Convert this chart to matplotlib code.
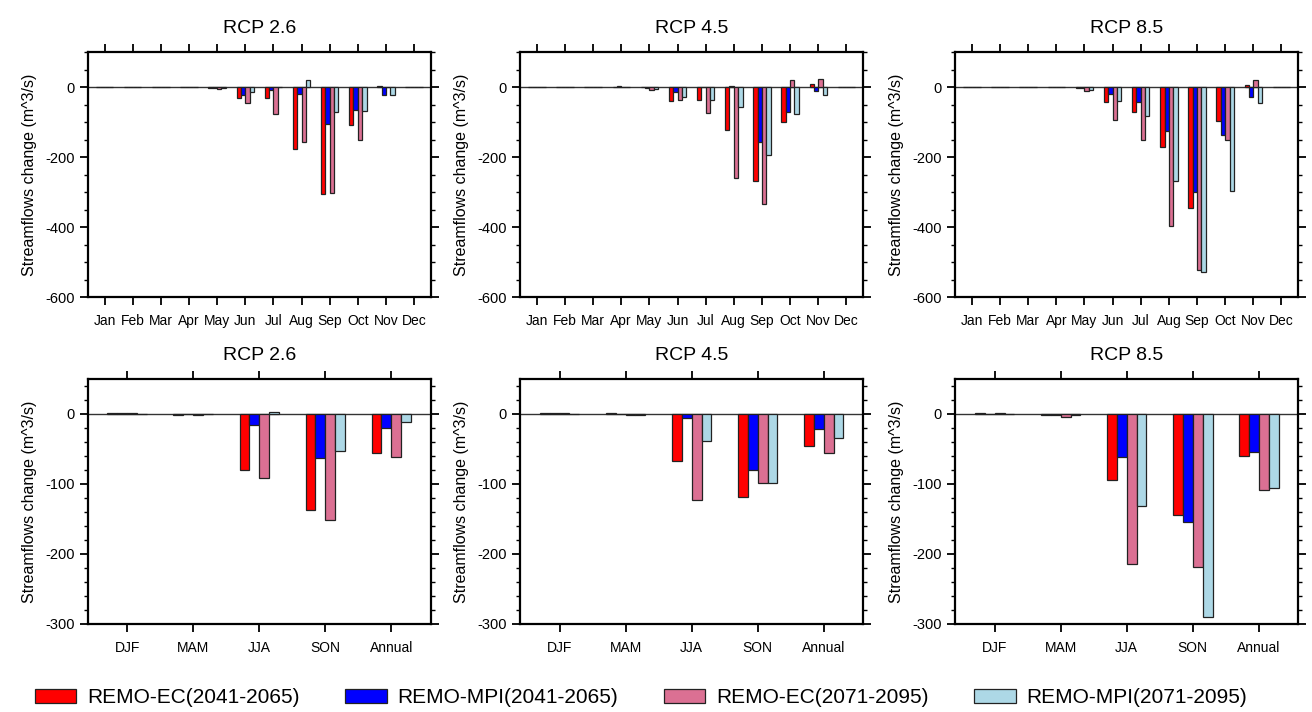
import matplotlib.pyplot as plt
import numpy as np
from matplotlib.ticker import MultipleLocator

plt.rcParams['font.family'] = ['Liberation Sans', 'DejaVu Sans']
plt.rcParams['axes.unicode_minus'] = False

months = ['Jan', 'Feb', 'Mar', 'Apr', 'May', 'Jun', 'Jul', 'Aug', 'Sep', 'Oct', 'Nov', 'Dec']
seasons = ['DJF', 'MAM', 'JJA', 'SON', 'Annual']
scenarios = ['RCP 2.6', 'RCP 4.5', 'RCP 8.5']
series = ['REMO-EC(2041-2065)', 'REMO-MPI(2041-2065)', 'REMO-EC(2071-2095)', 'REMO-MPI(2071-2095)']
colors = ['red', 'blue', 'palevioletred', 'lightblue']

# monthly changes, one list per series (EC41, MPI41, EC71, MPI71)
rcp26_mon = [
    [0, 0, 0, 2, -1, -32, -32, -176, -305, -109, 3, 2],
    [2, 0, 0, 2, -1, -22, -8, -19, -105, -64, -23, 0],
    [1, 0, 0, 2, -6, -46, -77, -156, -301, -152, 2, 2],
    [0, 0, 0, 0, -2, -14, 2, 20, -70, -67, -23, 0],
]
rcp45_mon = [
    [1, 0, 0, 2, 2, -39, -36, -122, -267, -98, 10, 2],
    [1, 0, 0, 3, -2, -14, 0, 3, -155, -72, -11, 2],
    [2, 0, 0, 2, -8, -36, -73, -258, -334, 20, 24, 0],
    [1, 0, 0, 0, -4, -29, -36, -56, -194, -77, -22, 0],
]
rcp85_mon = [
    [2, 0, 0, 2, -2, -42, -70, -170, -345, -97, 7, 2],
    [2, 0, 0, 2, -1, -18, -42, -124, -300, -135, -29, 0],
    [2, 0, 0, 2, -12, -94, -152, -396, -522, -152, 20, 2],
    [1, 0, 0, 1, -8, -39, -83, -269, -529, -296, -46, 0],
]

# seasonal / annual changes
rcp26_sea = [
    [1, -2, -80, -137, -56],
    [1, 0, -16, -63, -20],
    [1, -2, -92, -151, -61],
    [0.5, 0, 3, -53, -12],
]
rcp45_sea = [
    [1, 1, -67, -118, -46],
    [1, 0, -6, -80, -22],
    [1, -1, -123, -98, -56],
    [0.5, -1, -39, -98, -35],
]
rcp85_sea = [
    [1, -1, -94, -145, -60],
    [0, -1, -61, -154, -54],
    [1, -5, -214, -219, -109],
    [0, -1, -132, -290, -106],
]

fig = plt.figure(figsize=(13.12, 7.12), dpi=100)

lefts = [0.0668, 0.3963, 0.7279]
w, h = 0.2617, 0.3441


def draw(ax, labels, data, width, ylim, major, minor, title):
    x = np.arange(1, len(labels) + 1)
    for i, vals in enumerate(data):
        ax.bar(x + (i - 1.5) * width, vals, width, color=colors[i],
               edgecolor='#222222', linewidth=0.9, label=series[i], zorder=3)
    ax.axhline(0, color='#333333', linewidth=1.0, zorder=2)
    ax.set_xlim(0.4, len(labels) + 0.6)
    ax.set_ylim(*ylim)
    ax.set_xticks(x)
    ax.set_xticklabels(labels, fontsize=10)
    ax.yaxis.set_major_locator(MultipleLocator(major))
    ax.yaxis.set_minor_locator(MultipleLocator(minor))
    ax.tick_params(axis='both', which='both', direction='out', top=True, right=True)
    ax.tick_params(axis='x', which='minor', bottom=False, top=False)
    ax.tick_params(which='major', length=6, width=1.3)
    ax.tick_params(which='minor', length=3, width=1.0)
    ax.tick_params(axis='y', labelsize=10.5)
    ax.tick_params(axis='x', pad=6)
    for s in ax.spines.values():
        s.set_linewidth(1.6)
    ax.set_ylabel('Streamflows change (m^3/s)', fontsize=11.5, labelpad=6)
    ax.set_title(title, fontsize=14, pad=14)


mon_data = [rcp26_mon, rcp45_mon, rcp85_mon]
sea_data = [rcp26_sea, rcp45_sea, rcp85_sea]
for j in range(3):
    ax = fig.add_axes([lefts[j], 0.5825, w, h])
    draw(ax, months, mon_data[j], 0.155, (-600, 100), 200, 50, scenarios[j])
    if j == 0:
        handles, labs = ax.get_legend_handles_labels()
    ax = fig.add_axes([lefts[j], 0.1236, w, h])
    draw(ax, seasons, sea_data[j], 0.15, (-300, 50), 100, 20, scenarios[j])

fig.legend(handles, labs, loc='center', bbox_to_anchor=(0.4885, 0.02), ncol=4,
           frameon=False, handlelength=2.0, handleheight=0.7,
           handletextpad=0.5, columnspacing=2.2,
           prop={'family': ['Liberation Sans'], 'size': 15})

fig.savefig('out.png', dpi=100)
